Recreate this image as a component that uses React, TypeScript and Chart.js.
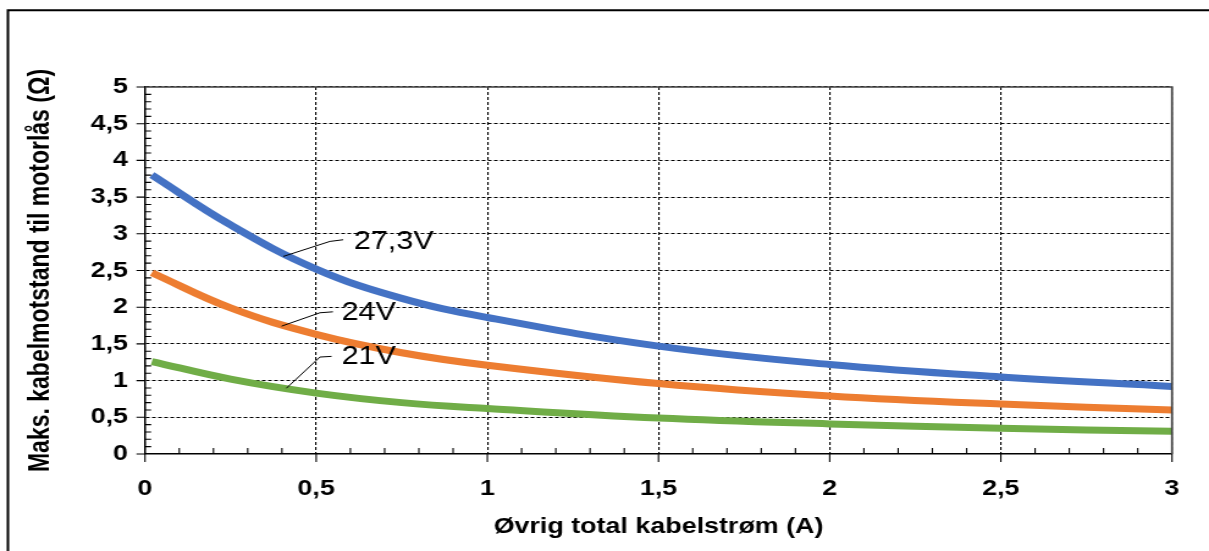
import React, { useEffect, useRef } from "react";
import { Chart, registerables } from "chart.js";

Chart.register(...registerables);

// the reference image is stretched sideways, so the canvas is drawn narrower and scaled up
const PAGE_W = 1209;
const PAGE_H = 551;
const CANVAS_W = 990;
const STRETCH = PAGE_W / CANVAS_W;

const currentA = [0.02, 0.25, 0.5, 0.75, 1, 1.5, 2, 2.5, 3];
const ohm273 = [3.8, 3.12, 2.52, 2.12, 1.86, 1.47, 1.22, 1.05, 0.92];
const ohm24 = [2.47, 1.99, 1.63, 1.38, 1.21, 0.96, 0.79, 0.68, 0.6];
const ohm21 = [1.26, 1.02, 0.83, 0.7, 0.62, 0.49, 0.41, 0.35, 0.31];

const xTicks = [0, 0.5, 1, 1.5, 2, 2.5, 3];
const yTicks = [0, 0.5, 1, 1.5, 2, 2.5, 3, 3.5, 4, 4.5, 5];

const curveLabels = ["27,3V", "24V", "21V"];
const curveLabelX = [0.61, 0.574, 0.574];
const curveLabelY = [2.797, 1.82, 1.222];
const leaderX = [
  [0.404, 0.54, 0.579],
  [0.399, 0.511, 0.549],
  [0.413, 0.511, 0.545],
];
const leaderY = [
  [2.692, 2.896, 2.919],
  [1.742, 1.924, 1.937],
  [0.896, 1.321, 1.33],
];

const fmt = (v: number) => String(v).replace(".", ",");

const decorPlugin = {
  id: "decor",
  afterDraw(chart: any) {
    const ctx = chart.ctx;
    const xs = chart.scales.x;
    const ys = chart.scales.y;
    const { left, right, top, bottom } = chart.chartArea;
    ctx.save();

    // outer frame (left + top edge of the picture)
    ctx.strokeStyle = "#000";
    ctx.lineWidth = 2;
    ctx.beginPath();
    ctx.moveTo(6.5, PAGE_H);
    ctx.lineTo(6.5, 10.3);
    ctx.lineTo(CANVAS_W, 10.3);
    ctx.stroke();

    // plot frame top / right
    ctx.strokeStyle = "#404040";
    ctx.lineWidth = 1.7;
    ctx.beginPath();
    ctx.moveTo(left, top);
    ctx.lineTo(right, top);
    ctx.lineTo(right, bottom);
    ctx.stroke();

    // tick marks: major outside, minor inside
    ctx.strokeStyle = "#000";
    ctx.lineWidth = 1.1;
    ctx.beginPath();
    for (let i = 0; i <= 30; i++) {
      const px = xs.getPixelForValue(i / 10);
      ctx.moveTo(px, bottom);
      ctx.lineTo(px, i % 5 === 0 ? bottom + 8 : bottom - 6);
    }
    for (let i = 0; i <= 50; i++) {
      const py = ys.getPixelForValue(i / 10);
      ctx.moveTo(left, py);
      ctx.lineTo(i % 5 === 0 ? left - 7 : left + 5, py);
    }
    ctx.stroke();

    // curve labels with leader lines
    ctx.lineWidth = 1;
    ctx.fillStyle = "#000";
    ctx.font = "25px 'Liberation Sans', Arial, sans-serif";
    ctx.textAlign = "left";
    ctx.textBaseline = "alphabetic";
    curveLabels.forEach((txt, i) => {
      ctx.beginPath();
      leaderX[i].forEach((lx, j) => {
        const px = xs.getPixelForValue(lx);
        const py = ys.getPixelForValue(leaderY[i][j]);
        if (j === 0) ctx.moveTo(px, py);
        else ctx.lineTo(px, py);
      });
      ctx.stroke();
      ctx.fillText(
        txt,
        xs.getPixelForValue(curveLabelX[i]),
        ys.getPixelForValue(curveLabelY[i]),
      );
    });
    ctx.restore();
  },
};

const App: React.FC = () => {
  const chartRef = useRef<HTMLCanvasElement>(null);
  const chartInstance = useRef<Chart>();

  useEffect(() => {
    if (!chartRef.current) return;
    if (chartInstance.current) chartInstance.current.destroy();

    Chart.defaults.font.family = "'Liberation Sans', Arial, sans-serif";
    Chart.defaults.color = "#000";

    const series = (vals: number[]) => currentA.map((x, i) => ({ x, y: vals[i] }));

    const line = {
      fill: false,
      borderWidth: 7,
      pointRadius: 0,
      tension: 0.4,
    };

    chartInstance.current = new Chart(chartRef.current, {
      type: "line",
      data: {
        datasets: [
          { ...line, label: "27,3V", data: series(ohm273), borderColor: "#4472C4" },
          { ...line, label: "24V", data: series(ohm24), borderColor: "#ED7D31" },
          { ...line, label: "21V", data: series(ohm21), borderColor: "#70AD47" },
        ],
      },
      options: {
        animation: false,
        responsive: false,
        devicePixelRatio: 1,
        layout: { padding: { left: 0, top: 87, right: 30.3, bottom: 0 } },
        plugins: { legend: { display: false }, tooltip: { enabled: false } },
        scales: {
          x: {
            type: "linear",
            min: 0,
            max: 3,
            afterBuildTicks: (s: any) => {
              s.ticks = xTicks.map((value) => ({ value }));
            },
            afterFit: (s: any) => {
              s.height = PAGE_H - 454;
            },
            ticks: {
              padding: 22,
              font: { size: 22, weight: "bold" },
              callback: (v: any) => fmt(v),
            },
            grid: { color: "#000", lineWidth: 1.1, drawTicks: false },
            border: { display: true, color: "#000", width: 1.5, dash: [3, 2] },
            title: {
              display: true,
              text: "Øvrig total kabelstrøm (A)",
              font: { size: 22, weight: "bold" },
              padding: { top: 0, bottom: 11 },
            },
          },
          y: {
            type: "linear",
            min: 0,
            max: 5,
            afterBuildTicks: (s: any) => {
              s.ticks = yTicks.map((value) => ({ value }));
            },
            afterFit: (s: any) => {
              s.width = 145 / STRETCH;
            },
            ticks: {
              padding: 14,
              font: { size: 22, weight: "bold" },
              callback: (v: any) => fmt(v),
            },
            grid: { color: "#000", lineWidth: 1.1, drawTicks: false },
            border: { display: true, color: "#000", width: 1.5, dash: [3, 2] },
            title: {
              display: true,
              text: "Maks. kabelmotstand til motorlås (Ω)",
              font: { size: 23, weight: "bold" },
              padding: { top: 20, bottom: 0 },
            },
          },
        },
      },
      plugins: [decorPlugin],
    });

    return () => {
      if (chartInstance.current) {
        chartInstance.current.destroy();
        chartInstance.current = undefined;
      }
    };
  }, []);

  return (
    <div style={styles.page}>
      <div style={styles.stretch}>
        <canvas ref={chartRef} width={CANVAS_W} height={PAGE_H} />
      </div>
    </div>
  );
};

const styles = {
  page: {
    position: "absolute" as const,
    left: 0,
    top: 0,
    width: PAGE_W,
    height: PAGE_H,
    overflow: "hidden",
    background: "#fff",
  },
  stretch: {
    width: CANVAS_W,
    height: PAGE_H,
    transform: `scaleX(${STRETCH})`,
    transformOrigin: "left top",
  },
};

export default App;
